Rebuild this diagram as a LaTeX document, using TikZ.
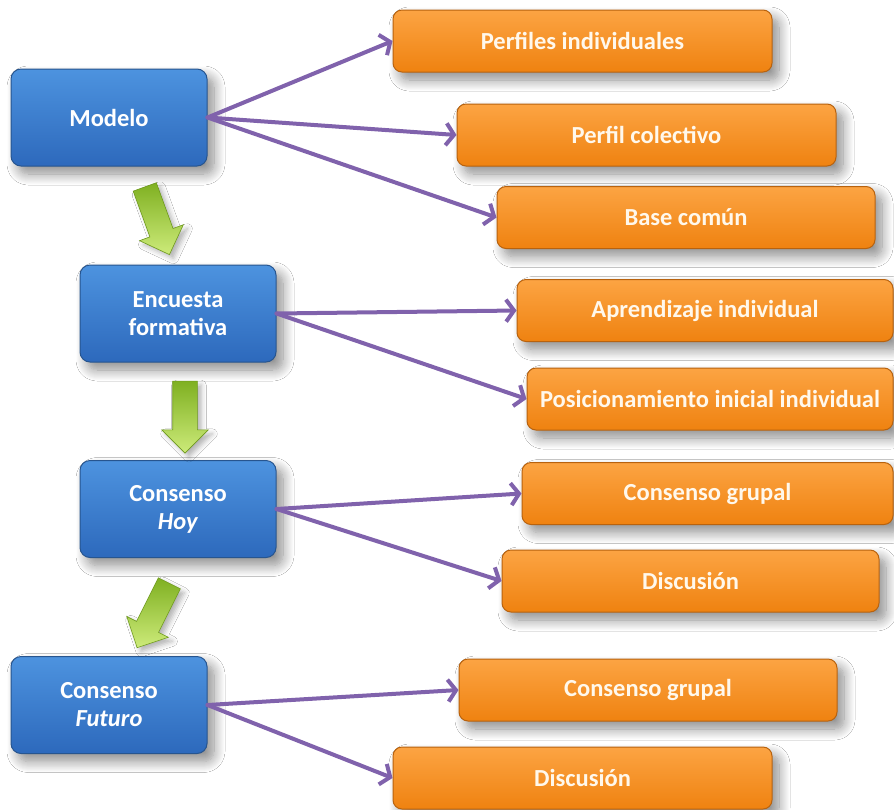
\documentclass[tikz,border=0pt]{standalone}
\usepackage{fontspec}
\setmainfont{Carlito}
\usetikzlibrary{arrows.meta,shapes.arrows,shadows.blur}
\definecolor{bluetop}{HTML}{4D93DF}
\definecolor{bluebot}{HTML}{2D69BC}
\definecolor{blueedge}{HTML}{27558F}
\definecolor{orgtop}{HTML}{FCA443}
\definecolor{orgbot}{HTML}{EF8210}
\definecolor{orgedge}{HTML}{B8620E}
\definecolor{purp}{HTML}{8062AC}
\definecolor{grnlight}{HTML}{CDEB7A}
\definecolor{grndark}{HTML}{7FB021}
\definecolor{grnedge}{HTML}{6E9A1C}
\definecolor{cream}{HTML}{FFF8EC}
\begin{document}
\begin{tikzpicture}[x=1pt,y=-1pt,
  boxshadow/.style={blur shadow={shadow xshift=7pt, shadow yshift=-8pt, shadow blur radius=11pt, shadow blur steps=12, shadow opacity=45}},
  bluebox/.style={draw=blueedge, line width=1pt, rounded corners=10pt,
    top color=bluetop, bottom color=bluebot, minimum width=196pt, minimum height=97pt,
    text=white, font=\fontsize{24.5}{28}\selectfont\bfseries, align=center, inner sep=0pt, boxshadow},
  orangebox/.style={draw=orgedge, line width=1pt, rounded corners=9pt,
    top color=orgtop, bottom color=orgbot, minimum height=62pt,
    text=cream, font=\fontsize{24.5}{28}\selectfont\bfseries, align=center, inner sep=0pt, boxshadow},
  link/.style={draw=purp, line width=4pt, line cap=round, -{Straight Barb[length=8pt,width=22pt,line width=4pt]}},
  greenarrow/.style={single arrow, draw=grnedge, line width=0.6pt, minimum height=72pt,
    inner xsep=0pt, inner ysep=12pt, single arrow head extend=11pt,
    top color=grndark, bottom color=grnlight,
    blur shadow={shadow xshift=4pt, shadow yshift=-4pt, shadow blur radius=5pt, shadow opacity=30}}]
\useasboundingbox (0,0) rectangle (894,809);
\fill[white] (0,0) rectangle (894,809);

% blue boxes
\node[bluebox] (modelo)   at (109,117.5) {Modelo};
\node[bluebox] (encuesta) at (178,313.5) {Encuesta\\formativa};
\node[bluebox] (hoy)      at (178,509)   {Consenso\\\textit{Hoy}};
\node[bluebox] (futuro)   at (109,705)   {Consenso\\\textit{Futuro}};

% orange boxes
\node[orangebox, minimum width=379pt] (perfiles) at (582.5,41)  {Perfiles individuales};
\node[orangebox, minimum width=379pt] (colect)   at (646.5,135) {Perfil colectivo};
\node[orangebox, minimum width=378pt] (base)     at (686,217.5) {Base común};
\node[orangebox, minimum width=376pt] (aprend)   at (705,310.5) {Aprendizaje individual};
\node[orangebox, minimum width=366pt] (posic)    at (710,399)   {Posicionamiento inicial individual};
\node[orangebox, minimum width=371pt] (grupal)   at (707.5,493.5) {Consenso grupal};
\node[orangebox, minimum width=377pt] (discu)    at (690.5,581) {Discusión};
\node[orangebox, minimum width=378pt] (grupalb)  at (648,690)   {Consenso grupal};
\node[orangebox, minimum width=379pt] (discub)   at (582.5,778) {Discusión};

% green arrows
\node[greenarrow, rotate=-70]    (g1) at (155,215) {};
\node[greenarrow, rotate=-90]    (g2) at (185,411) {};
\node[greenarrow, rotate=-116.6] (g3) at (156,610) {};

% connectors
\draw[link] (modelo.east) -- (perfiles.west);
\draw[link] (modelo.east) -- (colect.west);
\draw[link] (modelo.east) -- (base.west);
\draw[link] (encuesta.east) -- (aprend.west);
\draw[link] (encuesta.east) -- (posic.west);
\draw[link] (hoy.east) -- (grupal.west);
\draw[link] (hoy.east) -- (discu.west);
\draw[link] (futuro.east) -- (grupalb.west);
\draw[link] (futuro.east) -- (discub.west);
\end{tikzpicture}
\end{document}
